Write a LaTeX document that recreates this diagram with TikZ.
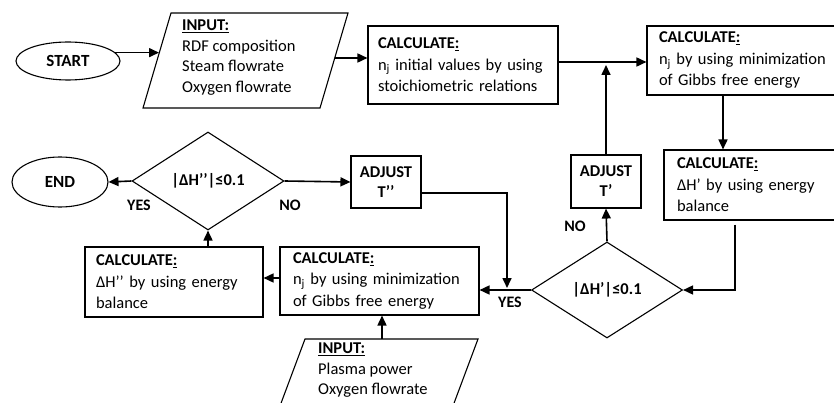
\documentclass[tikz,border=0pt]{standalone}
\usepackage{fontspec}
\setmainfont{Carlito}
\usetikzlibrary{arrows.meta,shapes.geometric}
\begin{document}
\begin{tikzpicture}[x=1pt,y=-1pt,
  font=\fontsize{16.5}{21.5}\selectfont,
  box/.style={draw, line width=1.1pt, rectangle, inner ysep=0pt, align=left},
  adj/.style={draw, line width=1.1pt, rectangle, inner sep=0pt, align=center, font=\fontsize{16.5}{20}\selectfont\bfseries, minimum width=70pt},
  dia/.style={draw, line width=1.1pt, diamond, inner sep=0pt, font=\fontsize{16.5}{20}\selectfont\bfseries},
  term/.style={draw, line width=1.1pt, ellipse, inner sep=0pt, font=\fontsize{17}{20}\selectfont\bfseries},
  para/.style={line width=1.1pt},
  flow/.style={line width=1.6pt, -{Triangle[length=10pt,width=9pt]}},
  lbl/.style={font=\fontsize{16}{20}\selectfont\bfseries, inner sep=0pt}]
\useasboundingbox (0,0) rectangle (834,403);
\clip (0,0) rectangle (834,403);

% terminals
\node[term, minimum width=104pt, minimum height=38pt] (start) at (68,61) {START};
\node[term, minimum width=96pt, minimum height=50pt] (end) at (60,182) {END};

% input 1
\draw[para] (171,13) -- (348,13) -- (320,108) -- (143,108) -- cycle;
\node[anchor=west, align=left, inner sep=0pt, font=\fontsize{16.5}{20.5}\selectfont] (in1) at (182,57.5)
  {\underline{\textbf{INPUT:}}\\RDF composition\\Steam flowrate\\Oxygen flowrate};
\coordinate (in1w) at (159,53);
\coordinate (in1e) at (335,58);

% input 2
\draw[para] (305,339) -- (478,339) -- (444,430) -- (271,430) -- cycle;
\node[anchor=north west, align=left, inner sep=0pt, font=\fontsize{16.5}{20.5}\selectfont] (in2) at (318,343)
  {\underline{\textbf{INPUT:}}\\Plasma power\\Oxygen flowrate};
\coordinate (in2n) at (382,339);

% boxes
\node[box, inner xsep=10pt, text width=170pt, minimum height=78pt] (c1) at (463,65)
  {\textbf{CALCULATE\underline{:}}\\n\textsubscript{j} initial values by using\\stoichiometric relations};
\node[box, inner xsep=12pt, text width=172pt, minimum height=69pt] (c2) at (745,60.5)
  {\textbf{CALCULATE\underline{:}}\\n\textsubscript{j} by using minimization\\of Gibbs free energy};
\node[box, inner xsep=13pt, text width=154pt, minimum height=70pt] (c3) at (754,185)
  {\textbf{CALCULATE\underline{:}}\\ΔH’ by using energy\\balance};
\node[box, inner xsep=13pt, text width=173pt, minimum height=68pt] (c4) at (379.5,281)
  {\textbf{CALCULATE\underline{:}}\\n\textsubscript{j} by using minimization\\of Gibbs free energy};
\node[box, inner xsep=11pt, text width=156pt, minimum height=70pt] (c5) at (174,282)
  {\textbf{CALCULATE\underline{:}}\\ΔH’’ by using energy\\balance};

\node[adj, minimum height=52pt] (a2) at (386,182) {ADJUST\\T’’};
\node[adj, minimum height=53pt] (a1) at (606,181.5) {ADJUST\\T’};

\node[dia, minimum width=152pt, minimum height=98pt] (d1) at (208,181) {|ΔH’’|≤0.1};
\node[dia, minimum width=151pt, minimum height=96pt] (d2) at (607,290) {|ΔH’|≤0.1};

\coordinate (join) at (507,288);

% connectors
\draw[flow] (start.10) -- (start.10 -| in1w);
\draw[flow] (in1e) -- (in1e -| c1.west);
\draw[flow] ([yshift=3pt]c1.east) -- ([yshift=3pt]c1.east -| c2.west);
\draw[flow] (c2.south -| 723,0) -- (c3.north -| 723,0);
\draw[flow, shorten <=4pt] (c3.south -| 735,0) |- (d2.east);
\draw[flow] (d2.north) -- (a1.south);
\draw[flow] (a1.north) -- (a1.north |- c1.east);
\draw[flow] (d2.west) -- (d2.west -| c4.east);
\draw[flow] ([yshift=-11pt]a2.east) -| (join);
\draw[flow] ([yshift=3pt]c4.west) -- ([yshift=3pt]c4.west -| c5.east);
\draw[flow] (in2n) -- (in2n |- c4.south);
\draw[flow] (d1.south |- c5.north) -- (d1.south);
\draw[flow] (d1.west) -- (end.east);
\draw[flow] (d1.east) -- (a2.west);

% labels
\node[lbl] (y1) at (139,205) {YES};
\node[lbl] (n1) at (290,205) {NO};
\node[lbl] (n2) at (575,226) {NO};
\node[lbl] (y2) at (510,302) {YES};
\end{tikzpicture}
\end{document}
